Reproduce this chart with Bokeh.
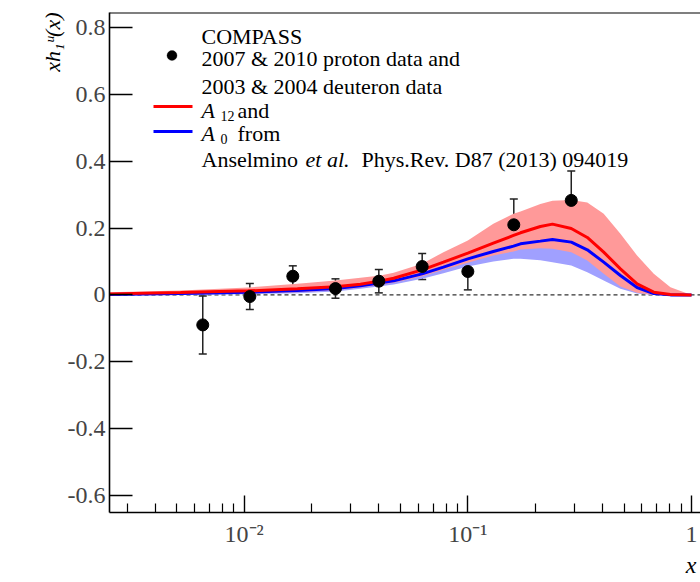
import math
from bokeh.plotting import figure
from bokeh.models import (ColumnDataSource, Whisker, TeeHead, Span, Label,
                          BoxAnnotation, FixedTicker, Range1d, Title)
from bokeh.embed import file_html
from bokeh.resources import INLINE

# ---------------- data ----------------
# COMPASS points
pt_x = [0.00653, 0.0106, 0.0165, 0.0256, 0.0400, 0.0625, 0.100, 0.1605, 0.290]
pt_y = [-0.090, -0.005, 0.056, 0.019, 0.041, 0.085, 0.070, 0.210, 0.283]
pt_err = [0.087, 0.039, 0.031, 0.029, 0.035, 0.039, 0.055, 0.077, 0.088]

# model curves (Anselmino et al.)
cx = [0.0025, 0.0052, 0.0104, 0.0173, 0.0256, 0.0331, 0.0407, 0.0466, 0.0625,
      0.0778, 0.100, 0.130, 0.160, 0.172, 0.211, 0.239, 0.290, 0.342, 0.405,
      0.481, 0.571, 0.678, 0.805, 1.0]
a12_mid = [0.003, 0.007, 0.012, 0.018, 0.024, 0.032, 0.042, 0.050, 0.075,
           0.098, 0.125, 0.155, 0.178, 0.186, 0.205, 0.212, 0.199, 0.172,
           0.128, 0.078, 0.033, 0.008, 0.001, 0.0]
a12_hi = [0.008, 0.013, 0.022, 0.033, 0.043, 0.051, 0.058, 0.066, 0.093,
          0.128, 0.163, 0.213, 0.243, 0.250, 0.272, 0.282, 0.284, 0.277,
          0.243, 0.183, 0.118, 0.063, 0.023, 0.0]
a12_lo = [0.0, 0.002, 0.004, 0.008, 0.014, 0.022, 0.030, 0.036, 0.056,
          0.075, 0.096, 0.118, 0.130, 0.136, 0.140, 0.138, 0.128, 0.103,
          0.063, 0.025, 0.006, 0.0, 0.0, 0.0]
a0_mid = [0.001, 0.004, 0.008, 0.013, 0.019, 0.027, 0.036, 0.042, 0.063,
          0.083, 0.108, 0.130, 0.146, 0.153, 0.161, 0.166, 0.158, 0.135,
          0.098, 0.058, 0.022, 0.004, 0.0, 0.0]
a0_hi = [0.002, 0.006, 0.012, 0.019, 0.026, 0.035, 0.045, 0.052, 0.077,
         0.100, 0.130, 0.158, 0.180, 0.190, 0.210, 0.220, 0.215, 0.190,
         0.145, 0.090, 0.040, 0.010, 0.001, 0.0]
a0_lo = [0.0, 0.0, 0.002, 0.005, 0.010, 0.018, 0.026, 0.031, 0.048,
         0.065, 0.085, 0.100, 0.108, 0.108, 0.104, 0.098, 0.088, 0.068,
         0.043, 0.018, 0.004, 0.0, 0.0, 0.0]

# axes
x_lim = [0.0025, 1.097]
y_lim = [-0.652, 0.846]
y_ticks = [-0.6, -0.4, -0.2, 0.0, 0.2, 0.4, 0.6, 0.8]
y_tick_labels = ["-0.6", "-0.4", "-0.2", "0", "0.2", "0.4", "0.6", "0.8"]
x_ticks = [0.01, 0.1, 1.0]
x_tick_labels = ["10\u207b\u00b2", "10\u207b\u00b9", "1"]
y_title = "xh\u2081\u1d58(x)"
x_title = "x"

SERIF = "Liberation Serif"

# ---------------- figure ----------------
FL, FT, FB = 109, 12, 512   # frame left / top / bottom in canvas px
p = figure(width=700, height=582, x_axis_type="log",
           x_range=Range1d(*x_lim), y_range=Range1d(*y_lim),
           output_backend="svg", toolbar_location=None, title=None,
           min_border_left=FL, min_border_right=0, min_border_top=FT,
           min_border_bottom=582 - FB)
p.outline_line_color = None
p.xgrid.visible = False
p.ygrid.visible = False
p.background_fill_color = "white"
p.border_fill_color = "white"

# y axis
ya = p.yaxis[0]
ya.ticker = FixedTicker(ticks=y_ticks, minor_ticks=[])
ya.major_label_overrides = {t: l for t, l in zip(y_ticks, y_tick_labels)}
ya.major_tick_in = 23
ya.major_tick_out = 0
ya.minor_tick_line_color = None
ya.major_label_standoff = 4
ya.major_label_text_font = SERIF
ya.major_label_text_font_size = "24px"
ya.axis_line_width = 1.6
ya.major_tick_line_width = 1.4

# x axis
minor = [m * 10.0 ** e for e in (-3, -2, -1) for m in range(2, 10)
         if x_lim[0] <= m * 10.0 ** e <= x_lim[1]]
xa = p.xaxis[0]
xa.ticker = FixedTicker(ticks=x_ticks, minor_ticks=minor)
xa.major_label_overrides = {t: l for t, l in zip(x_ticks, x_tick_labels)}
xa.major_tick_in = 17
xa.major_tick_out = 0
xa.minor_tick_in = 9
xa.minor_tick_out = 0
xa.major_label_standoff = 8
xa.major_label_text_font = SERIF
xa.major_label_text_font_size = "24px"
xa.axis_line_width = 1.6
xa.major_tick_line_width = 1.4
xa.minor_tick_line_width = 1.2

# axis titles as side titles
p.add_layout(Title(text=y_title, align="right", text_font=SERIF,
                   text_font_size="22px", text_font_style="italic",
                   text_color="black", offset=0, standoff=0), "left")
p.add_layout(Title(text=x_title, align="right", text_font=SERIF,
                   text_font_size="24px", text_font_style="italic",
                   text_color="black", offset=4, standoff=0), "below")

# top border of frame
p.add_layout(Span(location=y_lim[1], dimension="width", line_color="black",
                  line_width=2))

# ---------------- bands & curves ----------------
p.varea(x=cx, y1=a0_lo, y2=a0_hi, fill_color="#a0a0ff", fill_alpha=1.0)
p.varea(x=cx, y1=a12_lo, y2=a12_hi, fill_color="#ff9999", fill_alpha=1.0)

p.add_layout(Span(location=0, dimension="width", line_color="#333333",
                  line_width=1.4, line_dash="4 3", level="underlay"))

p.line(cx, a0_mid, line_color="#0000ff", line_width=3)
p.line(cx, a12_mid, line_color="#ff0000", line_width=3)

# ---------------- data points ----------------
src = ColumnDataSource(dict(x=pt_x, y=pt_y,
                            lo=[y - e for y, e in zip(pt_y, pt_err)],
                            hi=[y + e for y, e in zip(pt_y, pt_err)]))
p.add_layout(Whisker(source=src, base="x", lower="lo", upper="hi",
                     line_color="#222222", line_width=1.5,
                     lower_head=TeeHead(size=8, line_color="#222222", line_width=1.5),
                     upper_head=TeeHead(size=8, line_color="#222222", line_width=1.5)))
p.scatter("x", "y", source=src, size=12, color="black")

# ---------------- legend (screen units relative to frame) ----------------
def fx(px):
    return px - FL


def fy(py):
    return FB - py


def lab(text, px, py, size="22px", style="normal", **kw):
    p.add_layout(Label(x=fx(px), y=fy(py), x_units="screen", y_units="screen",
                       text=text, text_font=SERIF, text_font_size=size,
                       text_font_style=style, text_color="black",
                       text_baseline="alphabetic", **kw))


lab("COMPASS", 201, 36)
lab("2007 & 2010 proton data and", 201, 58)
lab("2003 & 2004 deuteron data", 201, 86)
lab("A", 201, 110, style="italic")
lab("12", 220, 115, size="14px")
lab("and", 237, 110)
lab("A", 201, 133, style="italic")
lab("0", 220, 138, size="14px")
lab("from", 237, 133)
lab("Anselmino", 201, 159)
lab("et al.", 305, 159, style="italic")
lab("Phys.Rev. D87 (2013) 094019", 361, 159)

# legend marker and lines
p.add_layout(BoxAnnotation(left=fx(166.5), right=fx(176.5), top=fy(50), bottom=fy(60),
                           left_units="screen", right_units="screen",
                           top_units="screen", bottom_units="screen",
                           fill_color="black", fill_alpha=1.0, line_color="black",
                           border_radius=5))
p.add_layout(BoxAnnotation(left=fx(153), right=fx(192), top=fy(104.5), bottom=fy(107.5),
                           left_units="screen", right_units="screen",
                           top_units="screen", bottom_units="screen",
                           fill_color="#ff0000", fill_alpha=1.0, line_color=None))
p.add_layout(BoxAnnotation(left=fx(153), right=fx(192), top=fy(129.5), bottom=fy(132.5),
                           left_units="screen", right_units="screen",
                           top_units="screen", bottom_units="screen",
                           fill_color="#0000ff", fill_alpha=1.0, line_color=None))

open("out.html", "w").write(file_html(p, INLINE))
